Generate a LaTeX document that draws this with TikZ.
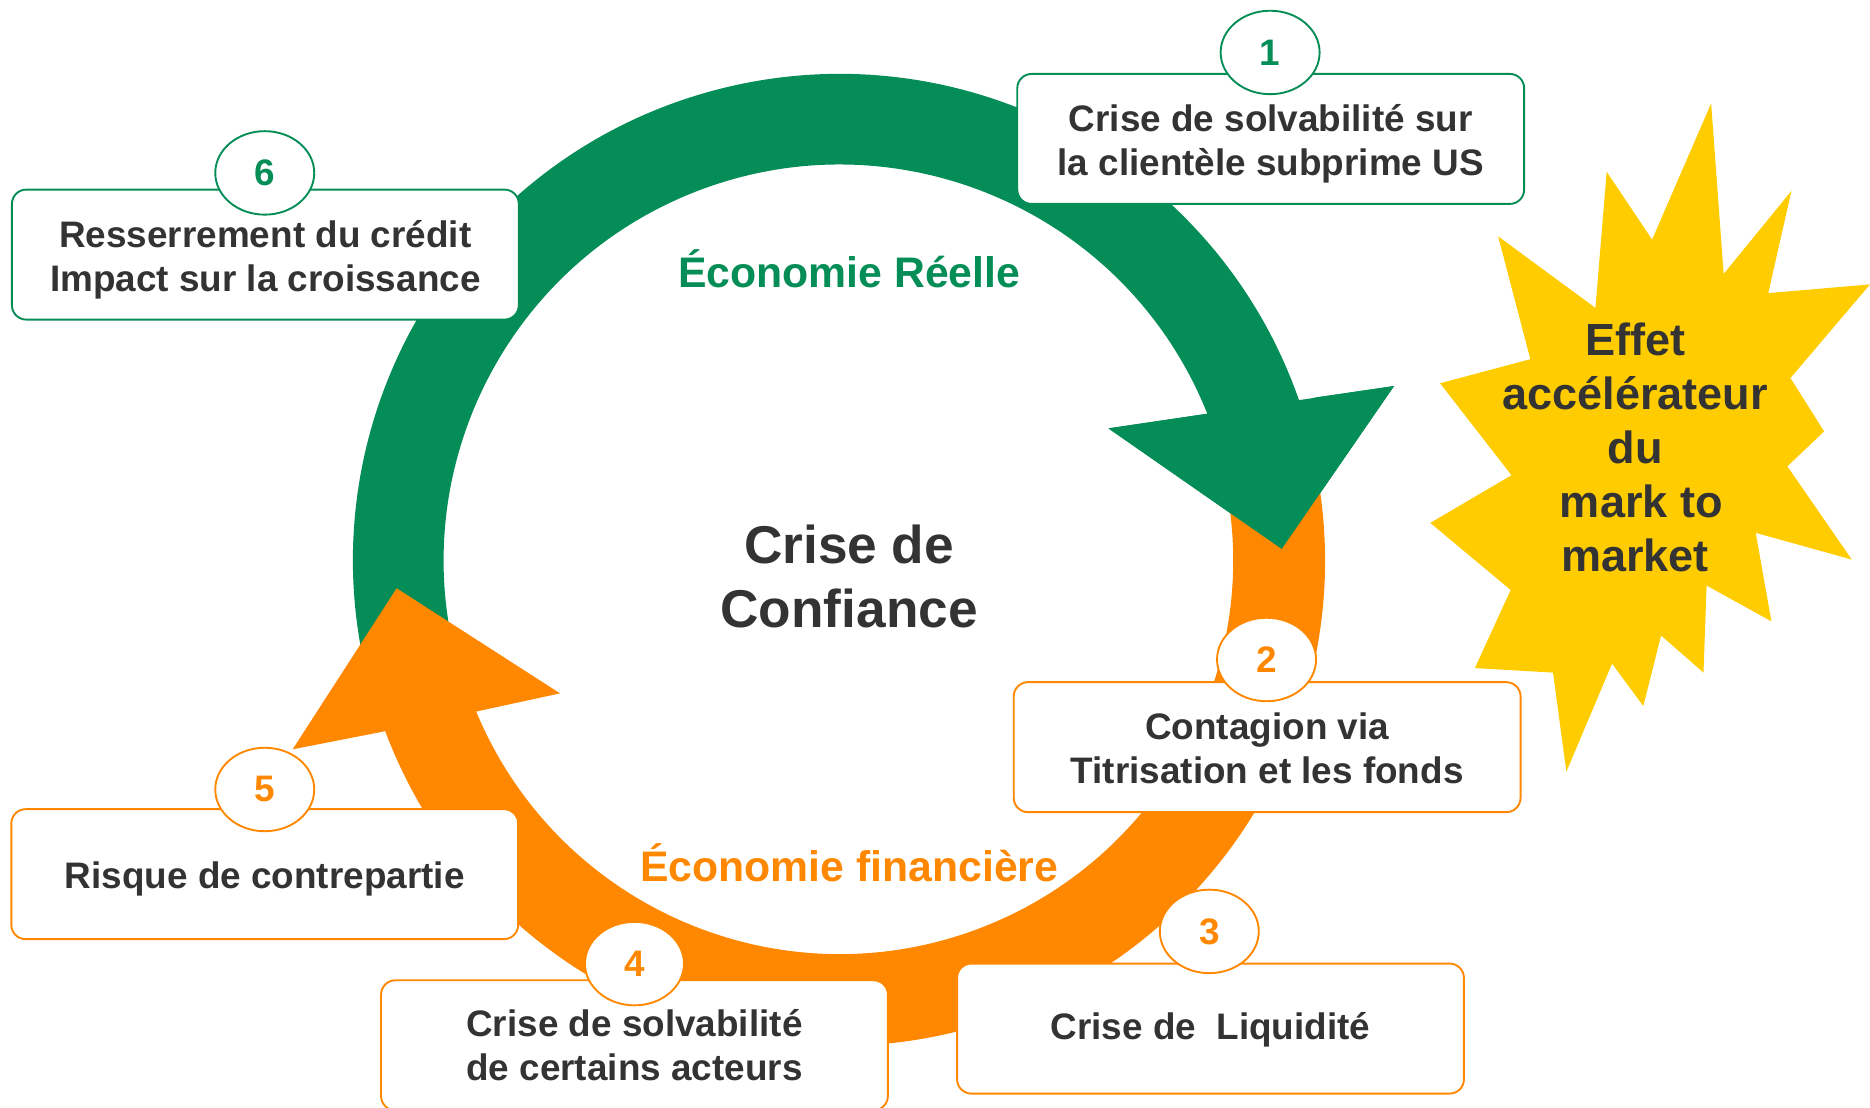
\documentclass[tikz,border=0pt]{standalone}
\usepackage{fontspec}
\setmainfont{Liberation Sans}
\usetikzlibrary{calc,shapes.geometric}
\definecolor{ecogreen}{RGB}{4,141,86}
\definecolor{ecoorange}{RGB}{255,136,0}
\definecolor{staryellow}{RGB}{255,204,0}
\definecolor{txtgray}{RGB}{51,51,51}
\begin{document}
\begin{tikzpicture}[x=0.1mm,y=0.1mm,
  stepbox/.style={draw=#1, line width=0.45pt, fill=white, rounded corners=1.2mm,
    minimum width=42.5mm, minimum height=10.9mm, inner sep=0pt},
  boxtext/.style={align=center, inner sep=0pt,
    text=txtgray, font=\fontsize{8.8}{10.5}\selectfont\bfseries},
  badge/.style={draw=#1, line width=0.45pt, fill=white, ellipse,
    minimum width=8.3mm, minimum height=7mm, inner sep=0pt,
    text=#1, font=\fontsize{8.8}{10.5}\selectfont\bfseries},
  ecolabel/.style={text=#1, font=\fontsize{10.2}{12}\selectfont\bfseries, inner sep=0pt},
]
\useasboundingbox (0,0) rectangle (1568,929);
\clip (0,0) rectangle (1568,929);

% ring geometry
\coordinate (C) at (704,459);
% green arrowhead points
\coordinate (gib) at (929.4,569.8);
\coordinate (gis) at (1020.8,583.3);
\coordinate (gos) at (1103.5,595.8);
\coordinate (gob) at (1168.9,605.3);
\coordinate (gt)  at (1074.7,468.7);
% orange arrowhead points
\coordinate (oib) at (469.6,347.6);
\coordinate (ois) at (399.1,332.3);
\coordinate (oos) at (324.2,316.1);
\coordinate (oob) at (245.4,300.7);
\coordinate (ot)  at (332.6,435.7);

% green arc (Économie réelle)
\fill[ecogreen] (gis) -- ($(C)+(21.4:332)$) arc[start angle=21.4, end angle=195, radius=332]
  -- ($(C)+(195:408)$) arc[start angle=195, end angle=18.9, radius=408]
  -- (gos) -- (gob) -- (gt) -- (gib) -- cycle;
% orange arc (Économie financière)
\fill[ecoorange] (ois) -- ($(C)+(-157.44:330)$) arc[start angle=-157.44, end angle=12, radius=330]
  -- ($(C)+(12:407)$) arc[start angle=12, end angle=-159.38, radius=407]
  -- (oos) -- (oob) -- (ot) -- (oib) -- cycle;
% green arrowhead on top of the orange start
\fill[ecogreen] (gob) -- (gt) -- (gib) -- cycle;

% starburst
\fill[staryellow] (1434.8,842.3) -- (1445.3,699.3) -- (1502.1,768.9) -- (1482.7,683.2)
  -- (1568,690.5) -- (1501.3,612) -- (1529.5,567.2) -- (1498.7,538) -- (1552.7,459.8)
  -- (1472.2,482.2) -- (1485.3,408) -- (1431,438) -- (1428.4,365) -- (1392.8,396.1)
  -- (1377.9,337) -- (1351.7,372.5) -- (1313.4,281.9) -- (1302.2,365) -- (1236.7,368.8)
  -- (1266.7,434.3) -- (1199.3,490.5) -- (1267.4,530.5) -- (1207.5,607.6) -- (1283.2,627.8)
  -- (1256.2,730.8) -- (1337.8,670.8) -- (1347.2,785) -- (1385.3,728.1) -- cycle;
\node[align=center, text=txtgray, inner sep=0pt,
  font=\fontsize{10.75}{12.9}\selectfont\bfseries] (effet) at (1371,554)
  {Effet\\accélérateur\\du\\\kern0.278em mark to\\market};

% boxes
\node[stepbox=ecogreen] (b1) at (1065.5,812.5) {};
\node[boxtext] at ($(b1)+(0,-4)$) {Crise de solvabilité sur\\la clientèle subprime US};
\node[stepbox=ecogreen] (b6) at (222.5,715.5) {};
\node[boxtext] at ($(b6)+(0,-4)$) {Resserrement du crédit\\Impact sur la croissance};
\node[stepbox=ecoorange] (b2) at (1062.5,302.5) {};
\node[boxtext] at ($(b2)+(0,-1)$) {Contagion via\\Titrisation et les fonds};
\node[stepbox=ecoorange] (b3) at (1015,66.5) {};
\node[boxtext] at ($(b3)+(0,-1)$) {Crise de~ Liquidité};
\node[stepbox=ecoorange] (b4) at (532,52.5) {};
\node[boxtext] at ($(b4)+(0,0)$) {Crise de solvabilité\\de certains acteurs};
\node[stepbox=ecoorange] (b5) at (222,196) {};
\node[boxtext] at ($(b5)+(0,-4)$) {Risque de contrepartie};

% number badges
\node[badge=ecogreen] (n1) at (1065,885) {1};
\node[badge=ecogreen] (n6) at (222,784) {6};
\node[badge=ecoorange] (n2) at (1062,376) {2};
\node[badge=ecoorange] (n3) at (1014,148) {3};
\node[badge=ecoorange] (n4) at (532,121) {4};
\node[badge=ecoorange] (n5) at (222,267) {5};

% labels
\node[ecolabel=ecogreen, anchor=base] (reelle) at (712,688) {Économie Réelle};
\node[ecolabel=ecoorange, anchor=base] (financiere) at (712,190) {Économie financière};
\node[align=center, text=txtgray, inner sep=0pt,
  font=\fontsize{12.7}{15.1}\selectfont\bfseries] (centre) at (712,445.5)
  {Crise de\\Confiance};
\end{tikzpicture}
\end{document}
